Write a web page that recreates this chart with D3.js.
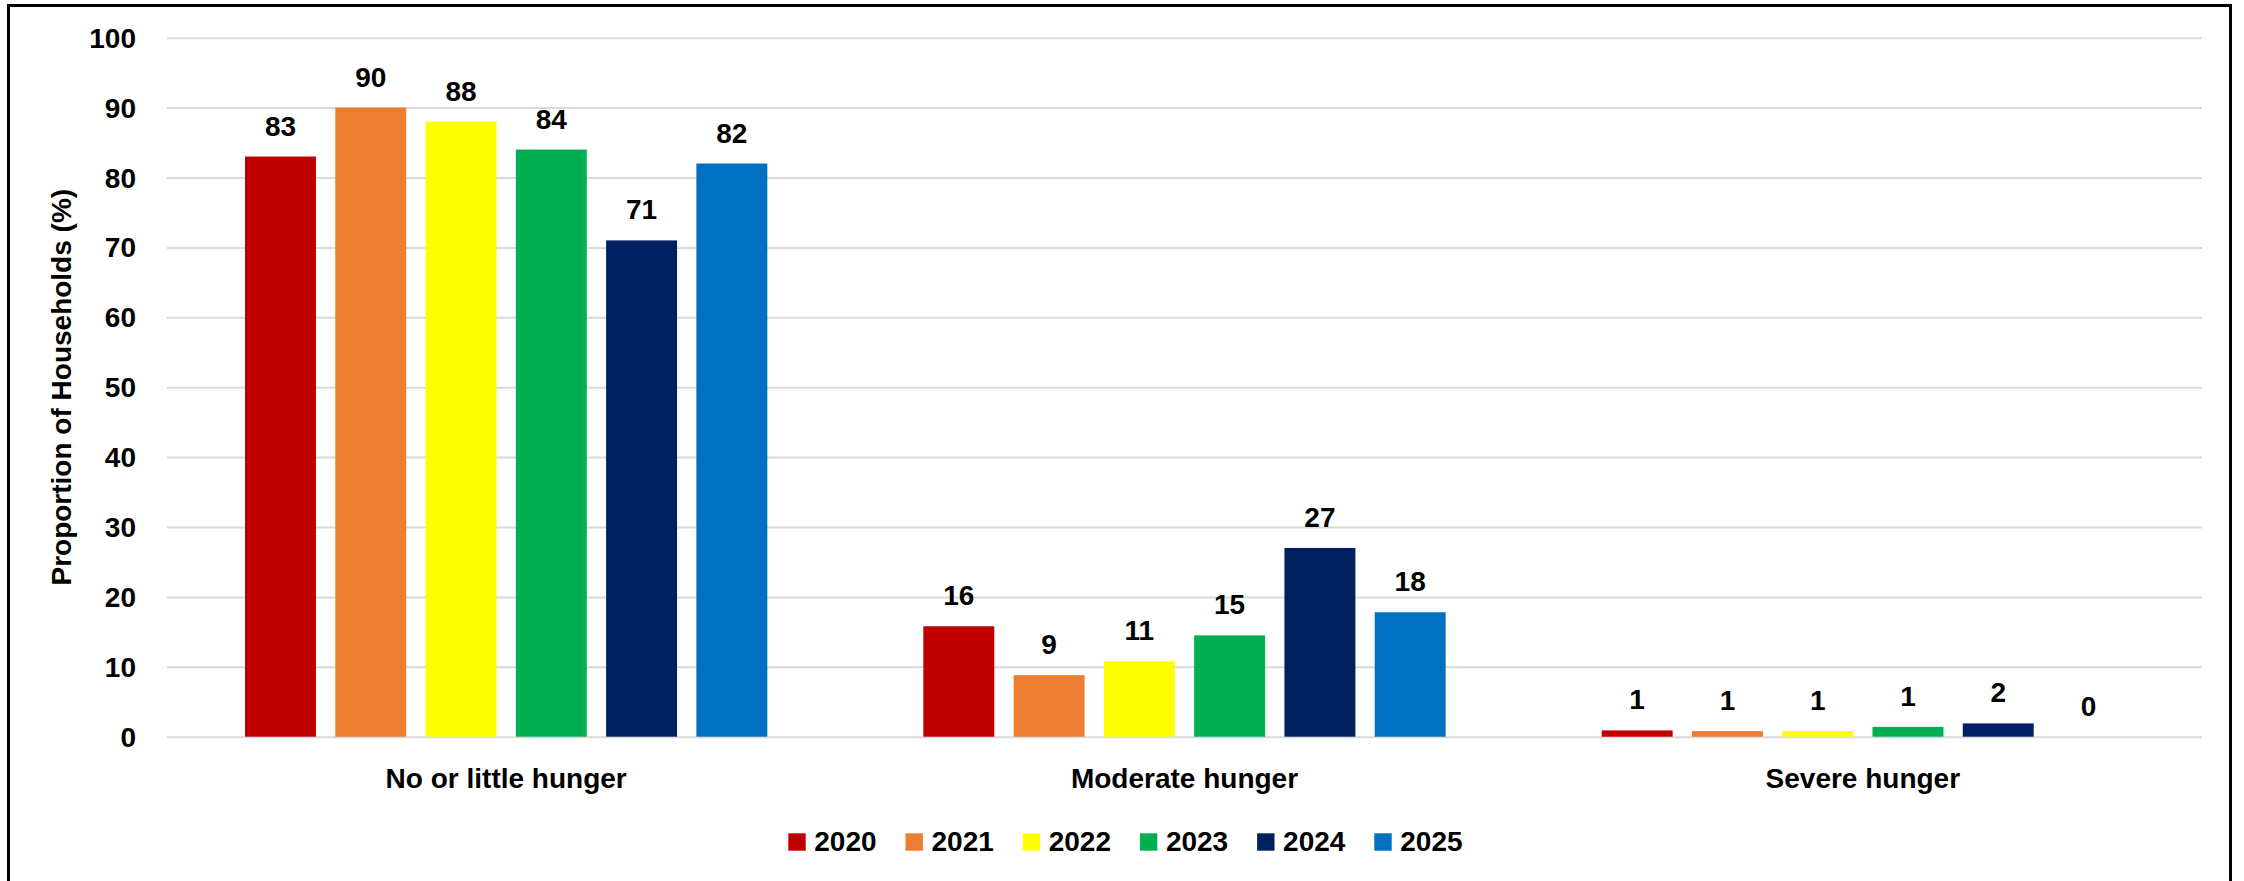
<!DOCTYPE html>
<html>
<head>
<meta charset="utf-8">
<script src="https://d3js.org/d3.v7.min.js"></script>
<style>
  html, body { margin: 0; padding: 0; background: #fff; }
  svg text { font-family: "Liberation Sans", Arial, sans-serif; font-weight: bold; fill: #000; }
</style>
</head>
<body>
<svg id="chart" width="2244" height="881"></svg>
<script>
// data
const categories = ["No or little hunger", "Moderate hunger", "Severe hunger"];
const years = ["2020", "2021", "2022", "2023", "2024", "2025"];
const colors = ["#C00000", "#ED7D31", "#FFFF00", "#00B050", "#002060", "#0070C0"];
const noHunger = [83, 90, 88, 84, 71, 82];
const moderateHunger = [15.8, 8.8, 10.8, 14.5, 27, 17.8];
const severeHunger = [0.9, 0.8, 0.8, 1.4, 1.9, 0];
const yTicks = [0, 10, 20, 30, 40, 50, 60, 70, 80, 90, 100];

const series = [noHunger, moderateHunger, severeHunger];

(function draw() {
    const svg = d3.select("#chart");
    const W = 2244, H = 881;
    const m = { left: 167, right: 42, top: 37.7, bottom: 144.3 };
    const width = W - m.left - m.right;
    const height = H - m.top - m.bottom;

    // outer border (runs off the bottom edge like the source)
    svg.append("rect")
        .attr("x", 8.5).attr("y", 5.5)
        .attr("width", 2222).attr("height", 920)
        .attr("fill", "none").attr("stroke", "#000").attr("stroke-width", 3);

    const g = svg.append("g").attr("transform", `translate(${m.left},${m.top})`);

    const y = d3.scaleLinear().domain([0, 100]).range([height, 0]);
    const x0 = d3.scaleBand().domain(categories).range([0, width])
        .paddingInner(0.23).paddingOuter(0.115);
    const x1 = d3.scaleBand().domain(years).range([0, x0.bandwidth()])
        .paddingInner(0.214).paddingOuter(0);
    const color = d3.scaleOrdinal().domain(years).range(colors);

    // y axis + gridlines
    const yAxis = g.append("g")
        .call(d3.axisLeft(y).tickValues(yTicks).tickSize(-width).tickPadding(31));
    yAxis.select(".domain").remove();
    yAxis.selectAll(".tick line").attr("stroke", "#d9d9d9").attr("stroke-width", 2);
    yAxis.selectAll(".tick text").style("font-size", "28px").attr("dy", "0.34em");

    // bars
    const groups = g.selectAll(".cat")
        .data(categories.map((c, i) => ({ cat: c, vals: series[i] })))
        .join("g")
        .attr("class", "cat")
        .attr("transform", d => `translate(${x0(d.cat)},0)`);

    groups.selectAll("rect")
        .data(d => d.vals.map((v, j) => ({ year: years[j], v })))
        .join("rect")
        .attr("x", d => x1(d.year))
        .attr("y", d => y(d.v))
        .attr("width", x1.bandwidth())
        .attr("height", d => height - y(d.v))
        .attr("fill", d => color(d.year));

    groups.selectAll("text.lbl")
        .data(d => d.vals.map((v, j) => ({ year: years[j], v })))
        .join("text")
        .attr("class", "lbl")
        .attr("x", d => x1(d.year) + x1.bandwidth() / 2)
        .attr("y", d => y(d.v) - 21)
        .attr("text-anchor", "middle")
        .style("font-size", "28px")
        .text(d => Math.round(d.v));

    // category axis
    const xAxis = g.append("g")
        .attr("transform", `translate(0,${height})`)
        .call(d3.axisBottom(x0).tickSize(0).tickPadding(31));
    xAxis.select(".domain").remove();
    xAxis.selectAll(".tick text").style("font-size", "28px");

    // y title
    svg.append("text")
        .attr("transform", `translate(71,${m.top + height / 2}) rotate(-90)`)
        .attr("text-anchor", "middle")
        .style("font-size", "28px")
        .text("Proportion of Households (%)");

    // legend
    const legend = svg.append("g").attr("transform", "translate(788.3,833.3)");
    const item = legend.selectAll("g")
        .data(years)
        .join("g")
        .attr("transform", (d, i) => `translate(${i * 117.2},0)`);
    item.append("rect")
        .attr("width", 17.4).attr("height", 17.4)
        .attr("fill", d => color(d));
    item.append("text")
        .attr("x", 26).attr("y", 17.7)
        .style("font-size", "28px")
        .text(d => d);
})();
</script>
</body>
</html>
